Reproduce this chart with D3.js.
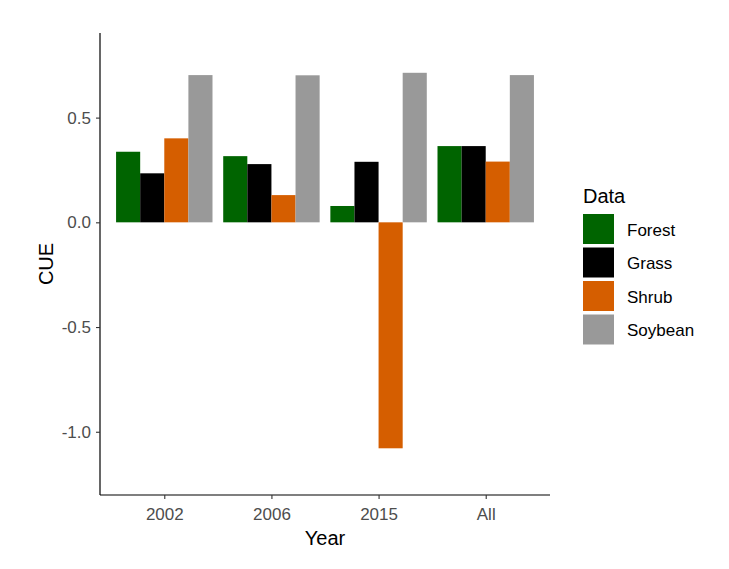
<!DOCTYPE html>
<html>
<head>
<meta charset="utf-8">
<script src="https://cdn.jsdelivr.net/npm/d3@7"></script>
<style>
  body { margin: 0; background: #fff; }
  svg { font-family: 'Liberation Sans', Arial, sans-serif; }
</style>
</head>
<body>
<div id="chart"></div>
<script>
// values
const years = ['2002', '2006', '2015', 'All'];
const types = ['Forest', 'Grass', 'Shrub', 'Soybean'];
const forest  = [0.337, 0.316, 0.078, 0.364];
const grass   = [0.234, 0.278, 0.289, 0.364];
const shrub   = [0.401, 0.130, -1.079, 0.290];
const soybean = [0.703, 0.702, 0.714, 0.703];
const yTicks = [-1.0, -0.5, 0.0, 0.5];
const colors = ['#006400', '#000000', '#d55e00', '#999999'];

const series = [forest, grass, shrub, soybean];
const rows = [];
years.forEach((yr, i) => types.forEach((t, j) => rows.push({ year: yr, type: t, value: series[j][i] })));

const W = 729, H = 569;
const m = { left: 100, right: 179, top: 33, bottom: 74 };

const svg = d3.select('#chart').append('svg')
  .attr('width', W).attr('height', H);

// ggplot-style discrete axis: 0.6 expansion each side
const x = d3.scalePoint().domain(years)
  .range([m.left, W - m.right]).padding(0.6);
const step = x.step();
const inner = d3.scaleBand().domain(types)
  .range([-step * 0.45, step * 0.45]);

const y = d3.scaleLinear().domain([-1.302, 0.904])
  .range([H - m.bottom, m.top]);

// bars
svg.append('g').selectAll('rect')
  .data(rows)
  .join('rect')
  .attr('x', d => x(d.year) + inner(d.type))
  .attr('width', inner.bandwidth())
  .attr('y', d => y(Math.max(0, d.value)))
  .attr('height', d => Math.abs(y(d.value) - y(0)))
  .attr('fill', d => colors[types.indexOf(d.type)]);

// axes (hyphen minus like R output)
const fmt = d => d3.format('.1f')(d).replace('\u2212', '-');
const yAxis = svg.append('g')
  .attr('transform', `translate(${m.left},0)`)
  .call(d3.axisLeft(y).tickValues(yTicks).tickFormat(fmt).tickSize(4).tickPadding(5));
const xAxis = svg.append('g')
  .attr('transform', `translate(0,${H - m.bottom})`)
  .call(d3.axisBottom(x).tickSize(4).tickPadding(9));

[yAxis, xAxis].forEach(g => {
  g.select('.domain').attr('stroke', '#000').attr('stroke-width', 1.2);
  g.selectAll('.tick line').attr('stroke', '#333').attr('stroke-width', 1.1);
  g.selectAll('.tick text')
    .style('font-size', '17px')
    .style('font-family', "'Liberation Sans', Arial, sans-serif")
    .attr('fill', '#4d4d4d');
});
// ggplot domain without outer tick caps
yAxis.select('.domain').attr('d', `M0,${y.range()[0]}V${y.range()[1]}`);
xAxis.select('.domain').attr('d', `M${m.left},0H${W - m.right}`);

// axis titles
svg.append('text')
  .attr('x', (m.left + W - m.right) / 2).attr('y', 545)
  .attr('text-anchor', 'middle')
  .style('font-size', '20px').attr('fill', '#000')
  .text('Year');
svg.append('text')
  .attr('transform', `translate(53,${(m.top + H - m.bottom) / 2}) rotate(-90)`)
  .attr('text-anchor', 'middle')
  .style('font-size', '20px').attr('fill', '#000')
  .text('CUE');

// legend
const lg = svg.append('g').attr('transform', 'translate(583,0)');
lg.append('text').attr('x', 0).attr('y', 203)
  .style('font-size', '20px').attr('fill', '#000').text('Data');
const key = lg.selectAll('g.key')
  .data(types)
  .join('g').attr('class', 'key')
  .attr('transform', (d, i) => `translate(0,${214 + i * 33.5})`);
key.append('rect')
  .attr('width', 31).attr('height', 30)
  .attr('fill', (d, i) => colors[i]);
key.append('text')
  .attr('x', 44).attr('y', 21.5)
  .style('font-size', '17px').attr('fill', '#000')
  .text(d => d);
</script>
</body>
</html>
